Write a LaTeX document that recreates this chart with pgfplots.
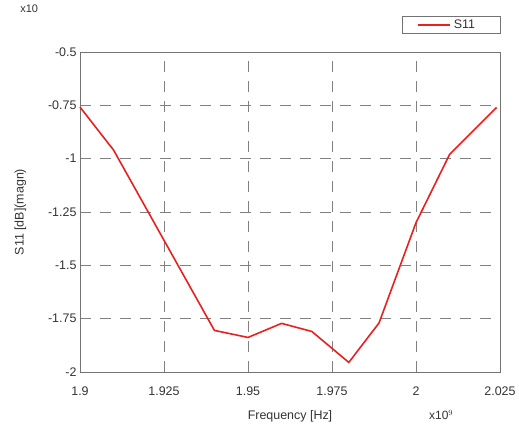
\documentclass[border=0pt]{standalone}
\usepackage{pgfplots}
\pgfplotsset{compat=1.18}
\usepackage{fontspec}
\setmainfont{Liberation Sans}
\setsansfont{Liberation Sans}
\begin{document}
\begin{tikzpicture}[x=1bp,y=1bp]
\path[use as bounding box] (-80,-56) rectangle (439,372);
\begin{axis}[
  at={(0,0)}, anchor=south west,
  scale only axis, width=420bp, height=320bp,
  xmin=1.9, xmax=2.025, ymin=-2, ymax=-0.5,
  xtick={1.9,1.925,1.95,1.975,2,2.025},
  xticklabels={1.9,1.925,1.95,1.975,2,2.025},
  ytick={-2,-1.75,-1.5,-1.25,-1,-0.75,-0.5},
  yticklabels={-2,-1.75,-1.5,-1.25,-1,-0.75,-0.5},
  tick label style={font=\fontsize{12.5}{13}\selectfont, text=black!80},
  xticklabel style={yshift=-11bp},
  grid=major,
  major grid style={black!50, dash pattern=on 11bp off 9bp, line width=0.9bp},
  axis line style={black!55, line width=0.9bp},
  tick style={draw=none},
  xlabel={Frequency [Hz]},
  ylabel={S11 [dB](magn)},
  label style={font=\fontsize{12.5}{13}\selectfont, text=black!80},
  xlabel style={yshift=-8bp},
  ylabel style={yshift=15bp},
  legend style={at={(1,1)}, anchor=south east, yshift=19bp, draw=black!55,
    font=\fontsize{12.5}{13}\selectfont, text=black!80, inner xsep=2bp, inner ysep=1bp,
    legend cell align=left},
  legend image code/.code={\path[draw=none] (0bp,0bp) -- (2bp,0bp); \draw[#1] (14bp,0bp) -- (46bp,0bp);},
  clip=false,
]
\addplot[color={rgb,255:red,232;green,32;blue,32}, line width=1.6bp] coordinates {
(1.9,-0.758)
(1.91,-0.96)
(1.94,-1.805)
(1.95,-1.838)
(1.96,-1.772)
(1.969,-1.81)
(1.98,-1.955)
(1.989,-1.77)
(2.0,-1.30)
(2.01,-0.98)
(2.024,-0.76)
};
\addlegendentry{\hspace*{1bp}\makebox[42bp][l]{S11}}
\node[font=\fontsize{11}{12}\selectfont, text=black!80] at (rel axis cs:-0.121,1.134) {x10};
\node[font=\fontsize{12}{13}\selectfont, text=black!80] at (rel axis cs:0.86,-0.135) {x10$^{9}$};
\end{axis}
\end{tikzpicture}
\end{document}
